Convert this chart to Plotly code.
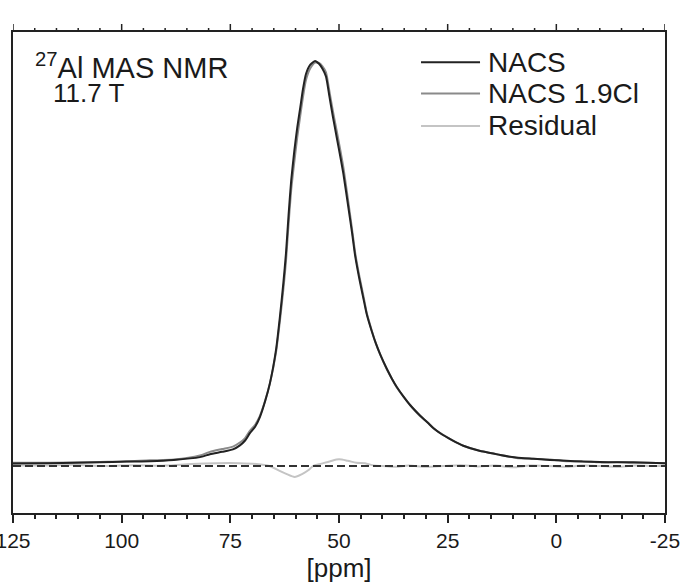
import plotly.graph_objects as go

# ---- data ----
ppm = [125.0, 116.5, 105.0, 99.0, 93.5, 88.0, 82.0, 79.7, 76.9, 74.4, 72.8, 71.6,
       70.5, 69.3, 68.2, 67.0, 65.9, 64.5, 63.6, 62.8, 62.2, 61.6, 61.0, 60.3, 59.6,
       58.9, 58.3, 57.6, 56.6, 55.5, 54.6, 53.8, 53.0, 52.2, 51.4, 50.5, 49.6, 49.0,
       48.0, 47.0, 46.3, 45.5, 44.9, 44.2, 43.6, 42.5, 41.5, 40.5, 39.0, 37.8, 36.7,
       35.2, 33.6, 31.3, 29.5, 28.3, 26.7, 24.0, 21.4, 17.5, 14.5, 12.9, 9.2, 5.3,
       1.5, -2.3, -6.0, -10.1, -14.0, -17.7, -21.0, -25.0]
nacs = [0.006, 0.007, 0.009, 0.011, 0.012, 0.015, 0.022, 0.029, 0.035, 0.041, 0.051, 0.063,
        0.081, 0.097, 0.121, 0.160, 0.204, 0.286, 0.368, 0.452, 0.525, 0.620, 0.705, 0.776, 0.836,
        0.886, 0.930, 0.968, 0.991, 1.000, 0.993, 0.981, 0.962, 0.912, 0.862, 0.810, 0.758, 0.722,
        0.650, 0.576, 0.520, 0.472, 0.440, 0.404, 0.374, 0.334, 0.302, 0.275, 0.240, 0.215, 0.195,
        0.172, 0.150, 0.124, 0.106, 0.094, 0.081, 0.064, 0.050, 0.037, 0.031, 0.027, 0.021, 0.018,
        0.015, 0.013, 0.011, 0.010, 0.009, 0.009, 0.008, 0.007]
nacs_19cl = [0.008, 0.008, 0.010, 0.011, 0.014, 0.016, 0.026, 0.035, 0.042, 0.048, 0.058, 0.069,
             0.087, 0.102, 0.124, 0.161, 0.204, 0.280, 0.358, 0.436, 0.505, 0.598, 0.681, 0.749, 0.812,
             0.866, 0.910, 0.953, 0.982, 0.996, 0.995, 0.987, 0.972, 0.925, 0.876, 0.826, 0.774, 0.738,
             0.663, 0.585, 0.528, 0.479, 0.447, 0.410, 0.377, 0.336, 0.302, 0.275, 0.239, 0.215, 0.194,
             0.172, 0.150, 0.123, 0.107, 0.093, 0.081, 0.064, 0.050, 0.037, 0.031, 0.027, 0.020, 0.018,
             0.016, 0.012, 0.012, 0.009, 0.010, 0.008, 0.008, 0.007]

res_ppm = [125, 118, 111, 104, 97, 90, 84, 78, 73, 69, 66, 64, 62, 60.2, 58.5, 57,
           56, 54, 52, 50, 48, 46, 44, 42, 40, 37, 34, 30, 26, 22, 18, 14, 10, 6,
           2, -2, -6, -10, -14, -18, -22, -25]
residual = [0.002, 0.001, 0.003, 0.000, 0.002, 0.001, 0.005, 0.007, 0.007, 0.005, 0.000,
            -0.010, -0.020, -0.027, -0.020, -0.010, 0.000, 0.006, 0.012, 0.0165, 0.013,
            0.008, 0.007, 0.001, 0.000, -0.002, 0.001, -0.002, 0.000, 0.002, -0.001,
            0.001, -0.003, 0.001, 0.000, -0.002, 0.001, 0.000, -0.002, 0.001, 0.000, 0.000]

tick_vals = [125, 100, 75, 50, 25, 0, -25]
tick_text = ["125", "100", "75", "50", "25", "0", "-25"]
minor_tick_vals = [v for v in range(125, -26, -5) if v % 25 != 0]

series_names = ["NACS", "NACS 1.9Cl", "Residual"]
series_colors = ["#222222", "#8a8a8a", "#c4c4c4"]

FONT = "Liberation Sans, Arial, sans-serif"
TXT = "#1a1a1a"
X_RANGE = [125, -25]
Y_RANGE = [-0.116, 1.0716]
W, H = 682, 588
MAJOR_LEN, MINOR_LEN = 8, 4
MARGIN = dict(l=13, r=17, t=32 - MAJOR_LEN, b=75)

# main plot occupies the lower part of the paper; a thin band above it holds the top ticks
paper_h = H - MARGIN["t"] - MARGIN["b"]
main_top = (paper_h - MAJOR_LEN) / paper_h

fig = go.Figure()
fig.add_trace(go.Scatter(x=res_ppm, y=residual, mode="lines", name=series_names[2],
                         line=dict(color=series_colors[2], width=2, shape="spline", smoothing=0.8),
                         showlegend=False))
fig.add_trace(go.Scatter(x=ppm, y=nacs_19cl, mode="lines", name=series_names[1],
                         line=dict(color=series_colors[1], width=2, shape="spline", smoothing=0.6),
                         showlegend=False))
fig.add_trace(go.Scatter(x=ppm, y=nacs, mode="lines", name=series_names[0],
                         line=dict(color=series_colors[0], width=2, shape="spline", smoothing=0.6),
                         showlegend=False))
fig.add_hline(y=0, line=dict(color="#333333", width=2, dash="8px,4px"), layer="above")

# top-edge tick marks (mirror of the bottom axis ticks) drawn as short segments in a thin band
tx, ty = [], []
for vals, ln in ((tick_vals, MAJOR_LEN), (minor_tick_vals, MINOR_LEN)):
    for v in vals:
        tx += [v, v, None]
        ty += [0, ln, None]
fig.add_trace(go.Scatter(x=tx, y=ty, xaxis="x2", yaxis="y2", mode="lines",
                         line=dict(color="#222", width=1.5), connectgaps=False,
                         cliponaxis=False, hoverinfo="skip", showlegend=False))

# legend drawn as sample lines + text labels (positions relative to the main plot area)
leg_rows_y = [0.9372, 0.8721, 0.8046]
shapes = list(fig.layout.shapes)
annotations = []
for name, col, yy in zip(series_names, series_colors, leg_rows_y):
    shapes.append(dict(type="line", xref="x domain", yref="y domain", x0=0.6258, x1=0.7163,
                       y0=yy, y1=yy, line=dict(color=col, width=2)))
    annotations.append(dict(text=name, x=0.7255, y=yy, xref="x domain", yref="y domain",
                            xanchor="left", yanchor="middle", showarrow=False,
                            font=dict(size=28, family=FONT, color=TXT)))

annotations += [
    dict(text="<sup>27</sup>Al MAS NMR", x=0.031, y=0.930, xref="x domain", yref="y domain",
         xanchor="left", yanchor="middle", showarrow=False,
         font=dict(size=29, family=FONT, color=TXT)),
    dict(text="11.7 T", x=0.059, y=0.874, xref="x domain", yref="y domain",
         xanchor="left", yanchor="middle", showarrow=False,
         font=dict(size=26, family=FONT, color=TXT)),
]

fig.update_layout(
    width=W, height=H,
    margin=MARGIN,
    plot_bgcolor="white", paper_bgcolor="white",
    font=dict(family=FONT, color=TXT),
    showlegend=False,
    shapes=shapes,
    annotations=annotations,
    xaxis=dict(
        range=X_RANGE, tickvals=tick_vals, ticktext=tick_text,
        ticks="outside", ticklen=MAJOR_LEN, tickwidth=1.5, tickcolor="#222",
        minor=dict(tickvals=minor_tick_vals, ticks="outside", ticklen=MINOR_LEN,
                   tickwidth=1.5, tickcolor="#222"),
        showline=True, linewidth=2, linecolor="#222", mirror=True,
        showgrid=False, zeroline=False, automargin=False, ticklabeloverflow="allow",
        tickfont=dict(size=21, family=FONT, color=TXT),
        title=dict(text="[ppm]", font=dict(size=26, family=FONT, color=TXT), standoff=8)),
    yaxis=dict(
        domain=[0, main_top], range=Y_RANGE, showticklabels=False, ticks="",
        showline=True, linewidth=2, linecolor="#222", mirror=True,
        showgrid=False, zeroline=False, automargin=False),
    xaxis2=dict(anchor="y2", range=X_RANGE, visible=False, showgrid=False, zeroline=False),
    yaxis2=dict(anchor="x2", domain=[main_top, 1.0], range=[0, MAJOR_LEN], visible=False,
                showgrid=False, zeroline=False),
)

fig.write_html("out.html", config={"displayModeBar": False})
